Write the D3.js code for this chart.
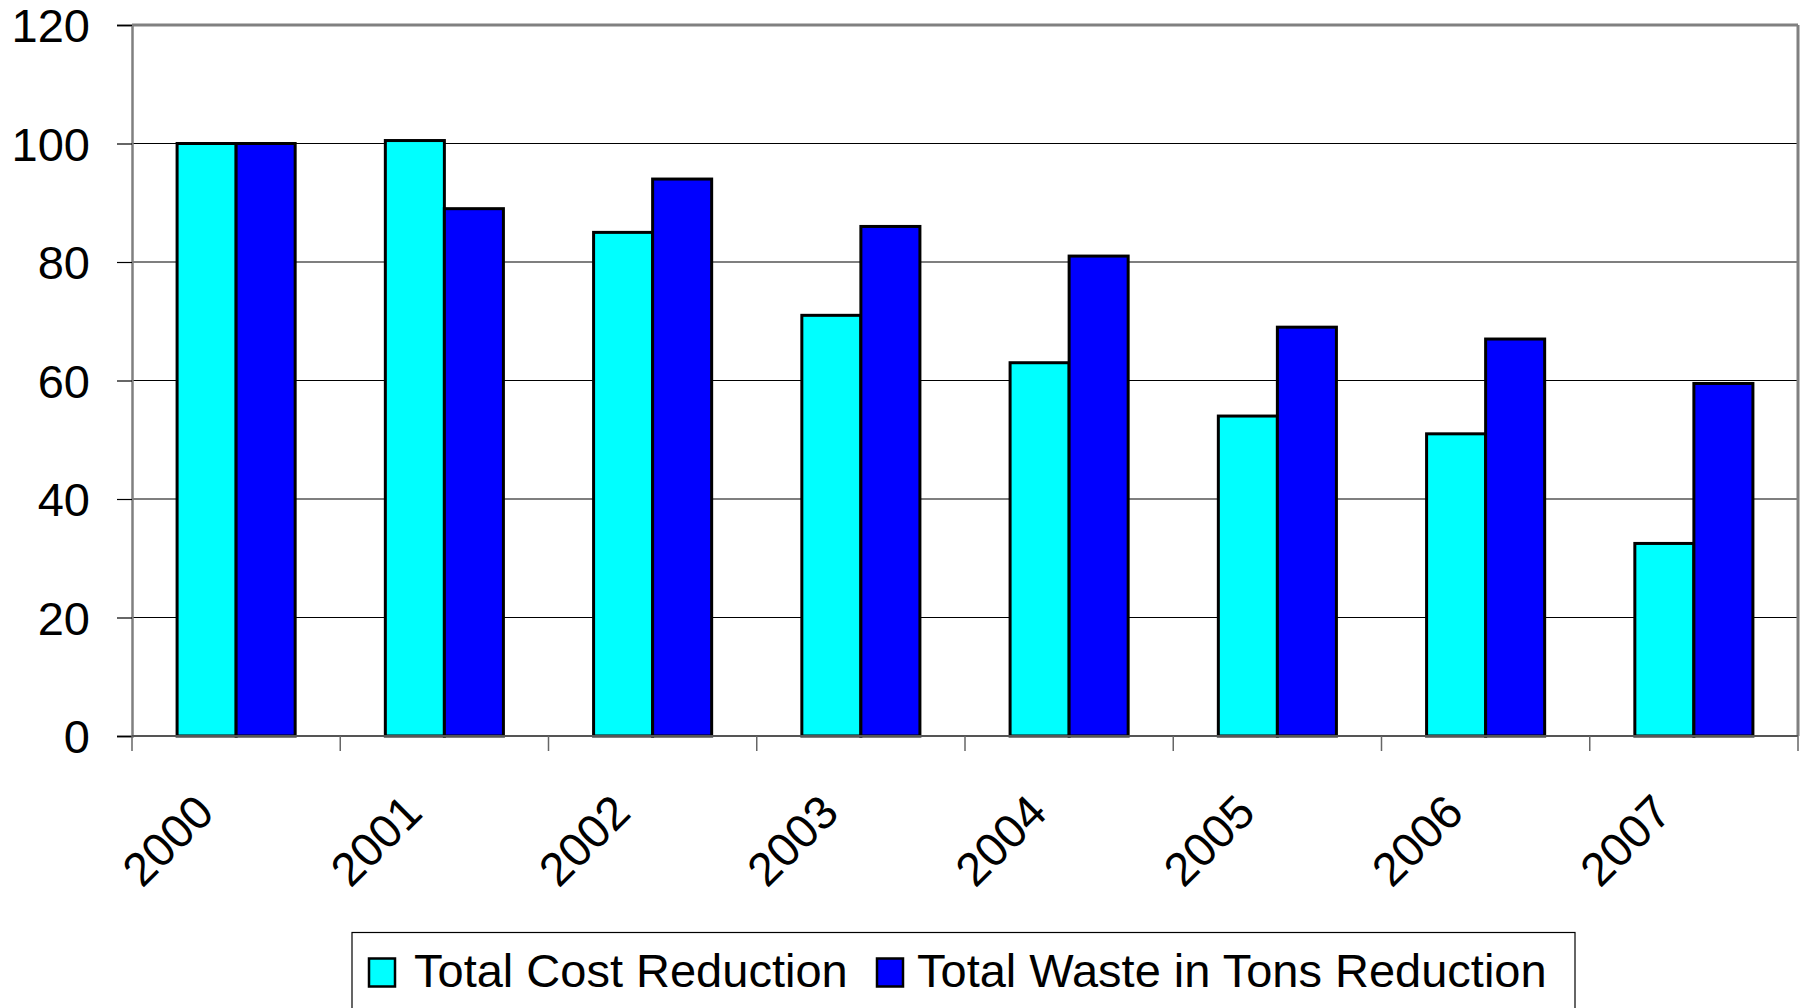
<!DOCTYPE html>
<html>
<head>
<meta charset="utf-8">
<script src="https://cdn.jsdelivr.net/npm/d3@7"></script>
<style>
  html, body { margin: 0; padding: 0; background: #fff; }
  svg { display: block; }
  text { font-family: "Liberation Sans", Arial, sans-serif; fill: #000; }
</style>
</head>
<body>
<script>
const years = ["2000", "2001", "2002", "2003", "2004", "2005", "2006", "2007"];
const costReduction = [100, 100.5, 85, 71, 63, 54, 51, 32.5];
const wasteReduction = [100, 89, 94, 86, 81, 69, 67, 59.5];
const seriesNames = ["Total Cost Reduction", "Total Waste in Tons Reduction"];
const seriesColors = ["#00FFFF", "#0000FF"];
const yTicks = [0, 20, 40, 60, 80, 100, 120];

(function () {
const W = 1808, H = 1008;
const pLeft = 132, pRight = 1798, pTop = 25, pBottom = 736;

const svg = d3.select("body").append("svg").attr("width", W).attr("height", H);

const x = d3.scaleBand().domain(years).range([pLeft, pRight]).paddingInner(0.433).paddingOuter(0.2165);
const xInner = d3.scaleBand().domain([0, 1]).range([0, x.bandwidth()]);
const y = d3.scaleLinear().domain([0, 120]).range([pBottom, pTop]);

// gridlines
svg.append("g").selectAll("line").data(yTicks.filter(d => d > 0 && d < 120)).join("line")
  .attr("x1", pLeft).attr("x2", pRight)
  .attr("y1", d => y(d)).attr("y2", d => y(d))
  .attr("stroke", "#000").attr("stroke-width", 1.2);

// plot frame (top, right gray)
svg.append("line").attr("x1", pLeft).attr("x2", pRight).attr("y1", y(120)).attr("y2", y(120))
  .attr("stroke", "#808080").attr("stroke-width", 3);
svg.append("line").attr("x1", pRight).attr("x2", pRight).attr("y1", y(120)).attr("y2", pBottom)
  .attr("stroke", "#808080").attr("stroke-width", 3);

// bars
const series = [costReduction, wasteReduction];
series.forEach((vals, si) => {
  svg.append("g").selectAll("rect").data(years).join("rect")
    .attr("x", d => x(d) + xInner(si))
    .attr("width", xInner.bandwidth())
    .attr("y", (d, i) => y(vals[i]))
    .attr("height", (d, i) => y(0) - y(vals[i]))
    .attr("fill", seriesColors[si])
    .attr("stroke", "#000").attr("stroke-width", 3);
});

// y axis
const yAxis = d3.axisLeft(y).tickValues(yTicks).tickSize(15).tickPadding(27).tickFormat(d3.format("d"));
const gy = svg.append("g").attr("transform", `translate(${pLeft},0)`).call(yAxis);
gy.select(".domain").attr("stroke", "#808080").attr("stroke-width", 2.5);
gy.selectAll(".tick line").attr("stroke", "#000").attr("stroke-width", 1.2);
gy.selectAll(".tick text").attr("font-size", 47).attr("font-family", "'Liberation Sans', Arial, sans-serif").attr("dy", "0.36em");

// x axis baseline & ticks at category boundaries
const stepEdges = years.map((d, i) => pLeft + i * x.step()).concat([pRight]);
svg.append("line").attr("x1", pLeft).attr("x2", pRight).attr("y1", pBottom).attr("y2", pBottom)
  .attr("stroke", "#555").attr("stroke-width", 2);
svg.append("g").selectAll("line").data(stepEdges).join("line")
  .attr("x1", d => d).attr("x2", d => d).attr("y1", pBottom).attr("y2", pBottom + 15)
  .attr("stroke", "#666").attr("stroke-width", 1.5);

// x labels
svg.append("g").selectAll("text").data(years).join("text")
  .attr("transform", d => `translate(${x(d) + x.bandwidth() / 2 - 20},${pBottom + 79}) rotate(-45)`)
  .attr("text-anchor", "end")
  .attr("font-size", 47)
  .text(d => d);

// legend
const lg = svg.append("g");
lg.append("rect").attr("x", 352).attr("y", 932.5).attr("width", 1223).attr("height", 120)
  .attr("fill", "#fff").attr("stroke", "#000").attr("stroke-width", 1.2);
const legendItems = [
  { sx: 369, tx: 414 },
  { sx: 877, tx: 917 }
];
seriesNames.forEach((name, i) => {
  lg.append("rect").attr("x", legendItems[i].sx).attr("y", 958.5).attr("width", 26).attr("height", 28)
    .attr("fill", seriesColors[i]).attr("stroke", "#000").attr("stroke-width", 2.5);
  lg.append("text").attr("x", legendItems[i].tx).attr("y", 986.5).attr("font-size", 47).text(name);
});
})();
</script>
</body>
</html>
